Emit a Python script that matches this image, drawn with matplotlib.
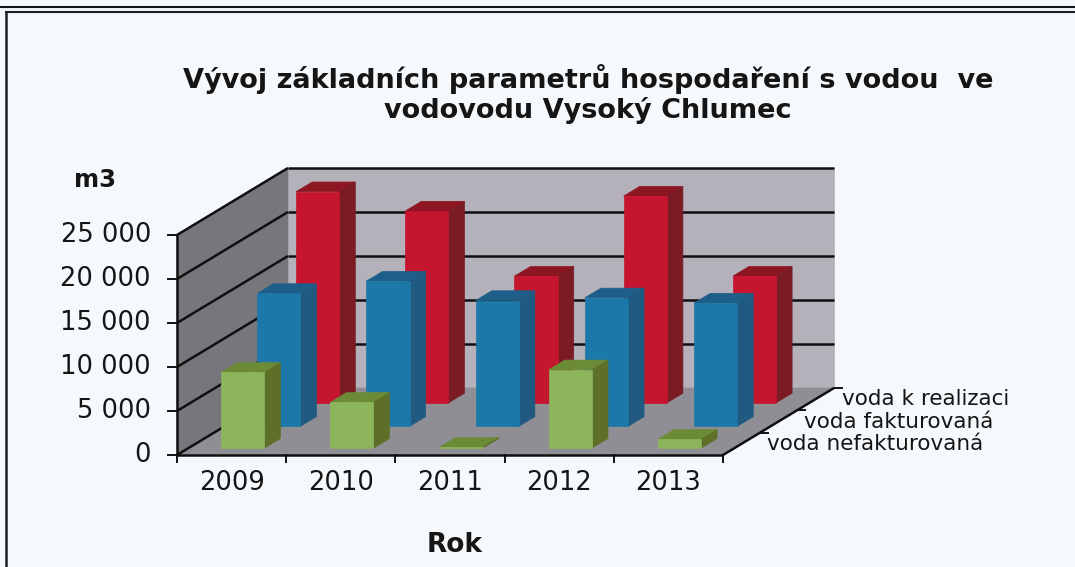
import matplotlib
matplotlib.use("Agg")
import matplotlib.pyplot as plt
from matplotlib.patches import Polygon

# Data
years = ["2009", "2010", "2011", "2012", "2013"]
voda_k_realizaci = [24000, 21800, 14400, 23500, 14400]
voda_fakturovana = [15100, 16500, 14300, 14600, 14000]
voda_nefakturovana = [8600, 5200, 100, 8900, 1000]
series_names = ["voda k realizaci", "voda fakturovaná", "voda nefakturovaná"]
y_ticks = [0, 5000, 10000, 15000, 20000, 25000]
y_labels = ["0", "5 000", "10 000", "15 000", "20 000", "25 000"]

# Oblique projection of the 3D box, in pixels
X0, Y0 = 177, 455
CAT_W = 109.2
DEPTH_X, DEPTH_Y = 111, -67
PX_PER_UNIT = 220 / 25000
YMAX = 25000
BAR_L, BAR_R = 0.3, 0.695
BAR_DEPTH = 0.145
DEPTH_CENTERS = [0.85, 0.50, 0.175]

BG = "#f5f9fc"
INK = "#151515"
WALL_LEFT = "#77767c"
WALL_BACK = "#b4b1bb"
FLOOR = "#8f8e94"
FRONT = ["#c5152f", "#1b78a9", "#8db55c"]
SIDE = ["#7b1c25", "#205a80", "#5e7028"]
TOP = ["#8e1522", "#1d5f88", "#6c8b37"]


def proj(cat, depth, val):
    return (X0 + cat * CAT_W + depth * DEPTH_X,
            Y0 + depth * DEPTH_Y - val * PX_PER_UNIT)


def face(ax, pts, color, z):
    ax.add_patch(Polygon([proj(*p) for p in pts], closed=True, fc=color,
                         ec=color, lw=0.5, zorder=z))


def line(ax, p, q, lw=1.8, z=2):
    a, b = proj(*p), proj(*q)
    ax.plot([a[0], b[0]], [a[1], b[1]], color="#101010", lw=lw, zorder=z,
            solid_capstyle="butt")


def bar(ax, cat, d0, val, s, z):
    l, r = cat + BAR_L, cat + BAR_R
    d1 = d0 + BAR_DEPTH
    face(ax, [(l, d0, val), (r, d0, val), (r, d1, val), (l, d1, val)], TOP[s], z)
    face(ax, [(r, d0, 0), (r, d1, 0), (r, d1, val), (r, d0, val)], SIDE[s], z)
    face(ax, [(l, d0, 0), (r, d0, 0), (r, d0, val), (l, d0, val)], FRONT[s], z)


fig = plt.figure(figsize=(10.75, 5.67), dpi=100, facecolor=BG)
ax = fig.add_axes([0, 0, 1, 1])
ax.set_xlim(0, 1075)
ax.set_ylim(567, 0)
ax.axis("off")

# Frame of the scanned page
ax.plot([0, 1075], [7, 7], color="#151515", lw=1.5)
ax.plot([6, 1075], [11.5, 11.5], color="#202020", lw=1.5)
ax.plot([6, 6], [11.5, 567], color="#202020", lw=1.8)

# Walls and floor
n = len(years)
face(ax, [(0, 1, 0), (n, 1, 0), (n, 1, YMAX), (0, 1, YMAX)], WALL_BACK, 1)
face(ax, [(0, 0, 0), (0, 1, 0), (0, 1, YMAX), (0, 0, YMAX)], WALL_LEFT, 1)
face(ax, [(0, 0, 0), (n, 0, 0), (n, 1, 0), (0, 1, 0)], FLOOR, 1)

for v in y_ticks[1:]:
    line(ax, (0, 0, v), (0, 1, v))
    line(ax, (0, 1, v), (n, 1, v))

# Axes and ticks
line(ax, (0, 0, 0), (0, 0, YMAX), z=2)
line(ax, (0, 0, 0), (n, 0, 0), z=20)
line(ax, (n, 0, 0), (n, 1, 0), z=20)
line(ax, (0, 0, 0), (0, 1, 0), z=2)
for v, lab in zip(y_ticks, y_labels):
    x, y = proj(0, 0, v)
    ax.plot([x - 9, x], [y, y], color="#101010", lw=1.4)
    ax.text(x - 26, y, lab, ha="right", va="center", fontsize=18.5, color=INK)
for i in range(n + 1):
    x, y = proj(i, 0, 0)
    ax.plot([x, x], [y, y + 7], color="#101010", lw=1.4)
for i, yr in enumerate(years):
    x, y = proj(i + 0.5, 0, 0)
    ax.text(x, y + 28, yr, ha="center", va="center", fontsize=18.5, color=INK)

# Depth axis: ticks and series names
for k in (1 / 3, 2 / 3, 1):
    x, y = proj(n, k, 0)
    ax.plot([x, x + 8], [y, y], color="#101010", lw=1.4, zorder=20)
for s, name in enumerate(series_names):
    x, y = proj(n, DEPTH_CENTERS[s], 0)
    ax.text(x + 25, y + 1, name, ha="left", va="center", fontsize=15.5, color=INK)

# Bars, back row first
z = 3
for s, vals in enumerate([voda_k_realizaci, voda_fakturovana, voda_nefakturovana]):
    d0 = DEPTH_CENTERS[s] - BAR_DEPTH / 2
    for i, v in enumerate(vals):
        bar(ax, i, d0, v, s, z)
    z += 1

# Titles
ax.text(588, 88, "Vývoj základních parametrů hospodaření s vodou  ve",
        ha="center", va="baseline", fontsize=19.5, fontweight="bold", color=INK)
ax.text(588, 118, "vodovodu Vysoký Chlumec",
        ha="center", va="baseline", fontsize=19.5, fontweight="bold", color=INK)
ax.text(95, 180, "m3", ha="center", va="center", fontsize=17.5, fontweight="bold",
        color=INK)
ax.text(455, 545, "Rok", ha="center", va="center", fontsize=19, fontweight="bold",
        color=INK)

fig.savefig("out.png", dpi=100, facecolor=BG)
